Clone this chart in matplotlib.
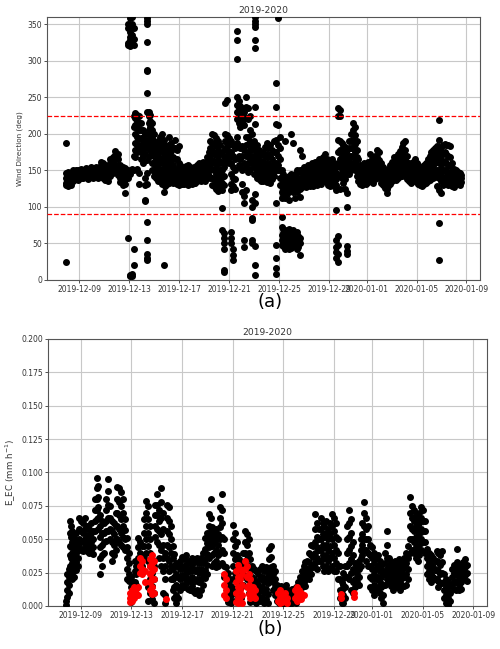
import pandas as pd
import matplotlib
matplotlib.use("Agg")
import matplotlib.pyplot as plt
import matplotlib.dates as mdates

# start of the record, the column positions below are days after it
start = pd.Timestamp("2019-12-08 00:00")

# wind direction (deg): (day, [values at that time])
wd_cols = [
    (-0.1, [188, 146, 140, 133, 130, 25]),
    (0.1, [148, 142, 137, 132, 128]),
    (0.3, [146, 140, 134, 130]),
    (0.5, [150, 145, 140, 136]),
    (0.7, [151, 147, 142, 138]),
    (0.9, [150, 146, 141, 137]),
    (1.1, [152, 148, 144, 140]),
    (1.3, [151, 147, 143, 139]),
    (1.5, [153, 149, 145, 141]),
    (1.7, [150, 146, 142, 138]),
    (1.9, [154, 150, 146, 141]),
    (2.1, [152, 148, 144, 140]),
    (2.3, [155, 151, 147, 142]),
    (2.5, [153, 149, 144, 140]),
    (2.7, [162, 157, 151, 146, 141]),
    (2.9, [160, 155, 149, 144, 139]),
    (3.1, [158, 153, 148, 143, 137]),
    (3.3, [156, 151, 146, 141, 136]),
    (3.5, [165, 160, 154, 148, 143]),
    (3.7, [168, 163, 158, 152, 146]),
    (3.9, [176, 171, 165, 158, 151]),
    (4.1, [172, 166, 158, 150, 144]),
    (4.3, [158, 152, 146, 140, 134]),
    (4.5, [154, 147, 141, 135, 130]),
    (4.7, [153, 146, 138, 132, 119]),
    (4.9, [350, 345, 325, 322, 150, 140, 57]),
    (5.05, [358, 340, 332, 328, 320, 145, 7, 5]),
    (5.2, [360, 350, 335, 325, 152, 8, 6]),
    (5.35, [345, 330, 322, 225, 210, 170, 150, 20, 42]),
    (5.5, [228, 222, 212, 200, 188, 178, 168]),
    (5.65, [226, 218, 208, 196, 185, 175, 152]),
    (5.8, [225, 215, 205, 193, 182, 146, 132]),
    (5.95, [215, 205, 195, 185, 175, 165]),
    (6.1, [205, 195, 186, 178, 170, 160]),
    (6.25, [200, 190, 182, 172, 140, 130, 110, 108]),
    (6.4, [358, 355, 350, 326, 288, 286, 256, 230, 164, 146, 132, 80, 55, 36, 30, 27]),
    (6.55, [230, 224, 215, 205, 195, 186, 178]),
    (6.7, [226, 218, 210, 200, 190, 180, 170]),
    (6.85, [215, 205, 195, 185, 172, 160, 150]),
    (7.0, [200, 190, 180, 170, 160, 150, 142]),
    (7.15, [185, 176, 166, 156, 148, 140]),
    (7.3, [190, 180, 170, 158, 148, 140, 135]),
    (7.45, [196, 186, 175, 162, 150, 142, 136]),
    (7.6, [200, 190, 178, 165, 150, 142, 132]),
    (7.75, [192, 180, 168, 155, 145, 121, 20]),
    (7.9, [185, 172, 160, 150, 142, 135, 128]),
    (8.05, [178, 165, 155, 147, 140, 132]),
    (8.2, [196, 185, 172, 158, 148, 140, 133]),
    (8.35, [188, 176, 164, 152, 144, 136]),
    (8.5, [180, 168, 157, 148, 140, 133]),
    (8.65, [192, 180, 165, 152, 143, 135]),
    (8.8, [178, 165, 152, 145, 138, 131]),
    (8.95, [183, 160, 150, 143, 137, 130]),
    (9.1, [158, 152, 146, 140, 134]),
    (9.25, [155, 149, 143, 137, 131]),
    (9.4, [152, 147, 142, 137, 132]),
    (9.55, [156, 150, 145, 140, 135]),
    (9.7, [158, 152, 146, 141, 135, 130]),
    (9.85, [154, 148, 143, 138, 133]),
    (10.0, [152, 147, 142, 137, 132]),
    (10.15, [155, 149, 144, 139, 133]),
    (10.3, [153, 148, 143, 138, 133]),
    (10.45, [158, 152, 146, 141, 136]),
    (10.6, [160, 154, 148, 143, 137]),
    (10.75, [157, 151, 146, 141, 135]),
    (10.9, [162, 156, 150, 144, 139]),
    (11.05, [160, 154, 148, 142, 136]),
    (11.2, [168, 160, 152, 146, 140]),
    (11.35, [175, 167, 158, 150, 143]),
    (11.5, [190, 180, 170, 160, 150, 140]),
    (11.65, [200, 188, 176, 164, 152, 140, 130]),
    (11.8, [198, 186, 174, 162, 150, 138, 128]),
    (11.95, [195, 183, 171, 158, 145, 133, 124]),
    (12.1, [190, 178, 165, 152, 140, 130, 122]),
    (12.25, [185, 172, 160, 148, 138, 128]),
    (12.4, [175, 162, 150, 141, 133, 123, 99, 68]),
    (12.55, [170, 155, 143, 130, 64, 58, 50, 42, 14, 11]),
    (12.7, [242, 200, 190, 180, 168, 160]),
    (12.85, [246, 198, 188, 178, 170, 162]),
    (13.0, [195, 185, 175, 168, 160]),
    (13.15, [190, 175, 160, 145, 132, 123, 65, 58, 50]),
    (13.3, [185, 170, 155, 140, 128, 42, 34, 28]),
    (13.45, [180, 165, 150, 138, 125]),
    (13.6, [341, 328, 302, 250, 240, 230, 220, 196, 188]),
    (13.75, [245, 235, 225, 215, 183, 170, 158]),
    (13.9, [238, 228, 218, 210, 180, 165, 155]),
    (14.05, [235, 225, 215, 183, 170, 150, 132, 121]),
    (14.2, [230, 220, 212, 178, 160, 115, 105, 55, 45]),
    (14.35, [251, 237, 222, 196, 185, 170, 155, 123]),
    (14.5, [235, 220, 196, 186, 172, 160, 148]),
    (14.65, [225, 205, 190, 178, 165, 152]),
    (14.8, [200, 185, 170, 160, 110, 100, 85, 82, 55, 50]),
    (14.95, [190, 178, 165, 155, 145]),
    (15.1, [360, 355, 350, 346, 328, 317, 237, 214, 183, 170, 160, 118, 105, 46, 21, 7]),
    (15.25, [185, 172, 162, 150, 140]),
    (15.4, [178, 165, 155, 146, 138]),
    (15.55, [172, 160, 150, 142, 135]),
    (15.7, [175, 162, 152, 144, 136]),
    (15.85, [182, 168, 156, 147, 139]),
    (16.0, [187, 172, 160, 150, 142, 134]),
    (16.15, [180, 168, 156, 147, 139]),
    (16.3, [185, 170, 158, 148, 140, 133]),
    (16.45, [178, 165, 154, 146, 138]),
    (16.6, [190, 175, 160, 150, 142]),
    (16.75, [269, 237, 214, 192, 175, 160, 150, 105, 48, 30, 17, 8]),
    (16.9, [358, 212, 185, 170, 158, 150]),
    (17.05, [196, 180, 165, 150, 140, 130]),
    (17.2, [150, 140, 130, 120, 112, 86, 72, 62, 55, 48]),
    (17.35, [145, 135, 125, 115, 70, 64, 58, 52, 46]),
    (17.5, [190, 140, 130, 120, 112, 68, 60, 54, 48, 42]),
    (17.65, [138, 128, 118, 66, 58, 52, 46]),
    (17.8, [142, 132, 122, 110, 70, 62, 55, 48, 42]),
    (17.95, [200, 145, 135, 125, 64, 56, 50, 44]),
    (18.1, [188, 140, 130, 120, 68, 60, 52, 46]),
    (18.25, [145, 136, 126, 112, 62, 55, 48]),
    (18.4, [150, 140, 130, 120, 65, 57, 50, 42]),
    (18.55, [148, 138, 128, 60, 52, 45]),
    (18.7, [178, 150, 134, 124, 114, 58, 50, 34]),
    (18.85, [170, 150, 142, 134, 127]),
    (19.0, [155, 147, 140, 134, 128]),
    (19.15, [152, 145, 139, 133, 127]),
    (19.3, [158, 150, 143, 136, 130]),
    (19.45, [154, 147, 140, 134, 128]),
    (19.6, [160, 152, 145, 138, 131]),
    (19.75, [156, 149, 142, 136, 129]),
    (19.9, [162, 154, 146, 139, 132]),
    (20.05, [158, 150, 143, 137, 130]),
    (20.2, [165, 156, 148, 140, 133]),
    (20.35, [160, 152, 145, 138, 131]),
    (20.5, [168, 158, 150, 142, 135]),
    (20.65, [172, 163, 154, 146, 138]),
    (20.8, [165, 156, 148, 140, 134]),
    (20.95, [160, 152, 145, 138, 130]),
    (21.1, [158, 150, 143, 136, 129]),
    (21.25, [165, 156, 148, 140, 133]),
    (21.4, [160, 150, 142, 135, 128]),
    (21.55, [155, 146, 138, 130, 123, 96, 55, 45, 38, 30]),
    (21.7, [235, 225, 192, 175, 160, 60, 48, 36, 24]),
    (21.85, [233, 225, 190, 178, 165, 155, 142, 125]),
    (22.0, [187, 178, 170, 162, 155, 148, 140]),
    (22.15, [185, 175, 166, 158, 150, 141, 133]),
    (22.3, [182, 172, 164, 156, 148, 138, 125]),
    (22.45, [178, 170, 162, 154, 145, 119, 100, 46, 40, 36]),
    (22.6, [190, 180, 170, 162, 154, 145]),
    (22.75, [200, 190, 180, 170, 160, 150]),
    (22.9, [215, 205, 192, 180, 168, 155]),
    (23.05, [210, 198, 186, 175, 162, 150]),
    (23.2, [190, 178, 168, 158, 150, 142]),
    (23.35, [165, 155, 148, 142, 136]),
    (23.5, [158, 150, 143, 137, 131]),
    (23.65, [155, 148, 142, 136, 130]),
    (23.8, [160, 152, 145, 139, 133]),
    (23.95, [156, 149, 143, 137, 131]),
    (24.1, [162, 154, 147, 140, 134]),
    (24.25, [173, 160, 152, 145, 138]),
    (24.4, [165, 156, 149, 142, 136]),
    (24.55, [158, 151, 145, 139, 133]),
    (24.7, [170, 160, 152, 145, 138]),
    (24.85, [178, 168, 158, 150, 142]),
    (25.0, [175, 164, 155, 147, 140]),
    (25.15, [160, 152, 145, 139, 133]),
    (25.3, [155, 148, 142, 136, 130]),
    (25.45, [150, 144, 138, 132, 126]),
    (25.6, [148, 140, 133, 125, 119]),
    (25.75, [152, 145, 139, 133, 128]),
    (25.9, [158, 150, 144, 138, 132]),
    (26.05, [162, 154, 147, 141, 135]),
    (26.2, [168, 159, 151, 144, 138]),
    (26.35, [165, 157, 150, 143, 137]),
    (26.5, [172, 162, 154, 147, 140]),
    (26.65, [176, 166, 157, 149, 142]),
    (26.8, [182, 170, 160, 151, 143]),
    (26.95, [188, 176, 164, 154, 145]),
    (27.1, [190, 178, 166, 155, 146]),
    (27.25, [170, 160, 152, 145, 138]),
    (27.4, [160, 153, 147, 141, 135]),
    (27.55, [158, 151, 145, 139, 133]),
    (27.7, [162, 155, 148, 142, 136]),
    (27.85, [165, 157, 150, 143, 137]),
    (28.0, [160, 153, 146, 140, 134]),
    (28.15, [157, 150, 144, 138, 132]),
    (28.3, [155, 148, 142, 136, 130]),
    (28.45, [152, 146, 140, 134, 128]),
    (28.6, [158, 151, 144, 138, 132]),
    (28.75, [160, 153, 146, 139, 133]),
    (28.9, [165, 157, 149, 142, 135]),
    (29.05, [170, 161, 152, 144, 137]),
    (29.2, [175, 165, 156, 147, 139]),
    (29.35, [178, 168, 158, 149, 140]),
    (29.5, [180, 170, 160, 150, 141]),
    (29.65, [183, 172, 161, 151, 142, 128]),
    (29.8, [219, 192, 178, 165, 150, 140, 123, 78, 27]),
    (29.95, [182, 170, 158, 146, 135, 119]),
    (30.1, [185, 174, 162, 150, 140, 130]),
    (30.25, [186, 175, 163, 151, 141, 132]),
    (30.4, [185, 172, 160, 149, 140, 131]),
    (30.55, [185, 170, 158, 147, 138, 130]),
    (30.7, [184, 168, 156, 146, 137]),
    (30.85, [160, 150, 142, 135, 128]),
    (31.0, [152, 145, 139, 133, 127]),
    (31.15, [150, 144, 138, 132]),
    (31.3, [148, 142, 137, 131]),
    (31.45, [146, 141, 136, 130]),
    (31.6, [144, 139, 134]),
]

# evaporation E_EC (mm/h): black points
ec_cols = [
    (-0.15, [0.004, 0.001]),
    (-0.05, [0.024, 0.018, 0.012, 0.007]),
    (0.05, [0.028, 0.022, 0.016, 0.010]),
    (0.15, [0.064, 0.055, 0.045, 0.038, 0.030]),
    (0.25, [0.060, 0.052, 0.044, 0.036, 0.028]),
    (0.35, [0.056, 0.048, 0.040, 0.032, 0.025, 0.020]),
    (0.45, [0.054, 0.046, 0.038, 0.030, 0.022]),
    (0.55, [0.050, 0.043, 0.036, 0.029]),
    (0.65, [0.055, 0.048, 0.040, 0.033, 0.027]),
    (0.75, [0.048, 0.042, 0.036, 0.030]),
    (0.9, [0.066, 0.058, 0.050, 0.044]),
    (1.05, [0.064, 0.056, 0.049, 0.042]),
    (1.2, [0.062, 0.055, 0.048, 0.041]),
    (1.35, [0.066, 0.058, 0.050, 0.044]),
    (1.5, [0.060, 0.053, 0.047, 0.041]),
    (1.65, [0.058, 0.052, 0.046, 0.040]),
    (1.8, [0.062, 0.055, 0.048, 0.042]),
    (1.95, [0.056, 0.050, 0.044, 0.039]),
    (2.1, [0.080, 0.072, 0.064, 0.056]),
    (2.25, [0.096, 0.088, 0.080, 0.072, 0.065]),
    (2.4, [0.090, 0.082, 0.074, 0.066, 0.058]),
    (2.55, [0.068, 0.060, 0.052, 0.044, 0.036, 0.024]),
    (2.7, [0.064, 0.055, 0.046, 0.038, 0.030]),
    (2.85, [0.062, 0.055, 0.048, 0.040]),
    (3.0, [0.080, 0.072, 0.064, 0.056, 0.049]),
    (3.15, [0.095, 0.086, 0.076, 0.066, 0.056]),
    (3.3, [0.075, 0.066, 0.058, 0.050]),
    (3.45, [0.064, 0.056, 0.048, 0.040, 0.034]),
    (3.6, [0.062, 0.054, 0.046, 0.038]),
    (3.75, [0.070, 0.060, 0.050, 0.042]),
    (3.9, [0.089, 0.080, 0.070, 0.060, 0.050]),
    (4.05, [0.088, 0.078, 0.068, 0.058, 0.048]),
    (4.2, [0.085, 0.075, 0.065, 0.055, 0.046]),
    (4.35, [0.080, 0.070, 0.060, 0.052, 0.044]),
    (4.5, [0.065, 0.057, 0.050, 0.042]),
    (4.65, [0.051, 0.044, 0.036, 0.028, 0.020]),
    (4.8, [0.040, 0.032, 0.024, 0.019]),
    (4.95, [0.022, 0.014, 0.008, 0.003]),
    (5.1, [0.018, 0.012, 0.006]),
    (5.25, [0.034, 0.026, 0.018, 0.010]),
    (5.4, [0.030, 0.024, 0.016, 0.009]),
    (5.55, [0.051, 0.044, 0.036, 0.028]),
    (5.7, [0.048, 0.040, 0.032, 0.026]),
    (5.85, [0.045, 0.038, 0.030]),
    (6.0, [0.065, 0.055, 0.045, 0.036]),
    (6.15, [0.079, 0.070, 0.060, 0.050, 0.040]),
    (6.3, [0.075, 0.065, 0.055, 0.045, 0.034, 0.014, 0.004]),
    (6.45, [0.060, 0.050, 0.040, 0.030, 0.020, 0.010]),
    (6.6, [0.035, 0.025, 0.015, 0.005]),
    (6.75, [0.030, 0.020, 0.010, 0.002]),
    (6.9, [0.076, 0.068, 0.060, 0.052]),
    (7.05, [0.084, 0.076, 0.068, 0.058, 0.048]),
    (7.2, [0.072, 0.064, 0.056, 0.046, 0.036]),
    (7.35, [0.088, 0.078, 0.066, 0.054, 0.042, 0.030]),
    (7.5, [0.070, 0.058, 0.046, 0.036, 0.026, 0.010]),
    (7.65, [0.040, 0.030, 0.020, 0.008, 0.002]),
    (7.8, [0.076, 0.066, 0.056, 0.046, 0.036]),
    (7.95, [0.074, 0.064, 0.054, 0.044, 0.034, 0.026]),
    (8.1, [0.060, 0.050, 0.040, 0.030, 0.020]),
    (8.25, [0.045, 0.036, 0.028, 0.020, 0.012]),
    (8.4, [0.039, 0.030, 0.022, 0.014, 0.006]),
    (8.55, [0.032, 0.024, 0.016, 0.008, 0.002]),
    (8.7, [0.030, 0.022, 0.014, 0.006]),
    (8.85, [0.034, 0.028, 0.020, 0.012]),
    (9.0, [0.037, 0.030, 0.023, 0.016]),
    (9.15, [0.035, 0.028, 0.021, 0.014]),
    (9.3, [0.038, 0.031, 0.024, 0.017]),
    (9.45, [0.034, 0.027, 0.020, 0.013]),
    (9.6, [0.032, 0.026, 0.019, 0.012]),
    (9.75, [0.036, 0.029, 0.022, 0.015]),
    (9.9, [0.034, 0.027, 0.020, 0.011]),
    (10.05, [0.033, 0.026, 0.019, 0.010]),
    (10.2, [0.036, 0.028, 0.020, 0.012]),
    (10.35, [0.032, 0.025, 0.018, 0.008]),
    (10.5, [0.036, 0.028, 0.020, 0.012]),
    (10.65, [0.040, 0.032, 0.024, 0.016]),
    (10.8, [0.051, 0.043, 0.035, 0.027, 0.021]),
    (10.95, [0.055, 0.047, 0.039, 0.031, 0.024]),
    (11.1, [0.069, 0.060, 0.052, 0.044, 0.036]),
    (11.25, [0.080, 0.066, 0.056, 0.048]),
    (11.4, [0.059, 0.052, 0.045, 0.038, 0.030]),
    (11.55, [0.055, 0.048, 0.040, 0.032]),
    (11.7, [0.058, 0.050, 0.042, 0.034, 0.029]),
    (11.85, [0.054, 0.046, 0.038, 0.030]),
    (12.0, [0.074, 0.066, 0.059, 0.050, 0.040]),
    (12.15, [0.084, 0.072, 0.062, 0.052, 0.042, 0.032]),
    (12.3, [0.050, 0.040, 0.030, 0.022]),
    (12.45, [0.029, 0.022, 0.015, 0.008]),
    (12.6, [0.025, 0.018, 0.010, 0.003]),
    (12.75, [0.020, 0.012, 0.005]),
    (12.9, [0.015, 0.008, 0.002]),
    (13.05, [0.061, 0.050, 0.040, 0.030, 0.020]),
    (13.2, [0.055, 0.045, 0.035, 0.025, 0.013, 0.004]),
    (13.35, [0.048, 0.038, 0.028, 0.018, 0.008]),
    (13.5, [0.035, 0.026, 0.018, 0.010]),
    (13.65, [0.030, 0.022, 0.014, 0.006]),
    (13.8, [0.040, 0.032, 0.024, 0.016]),
    (13.95, [0.056, 0.048, 0.040, 0.034]),
    (14.1, [0.054, 0.046, 0.038, 0.030, 0.020]),
    (14.25, [0.050, 0.040, 0.030, 0.020, 0.010]),
    (14.4, [0.035, 0.026, 0.018, 0.010, 0.003]),
    (14.55, [0.030, 0.022, 0.014, 0.006]),
    (14.7, [0.028, 0.020, 0.012, 0.004]),
    (14.85, [0.026, 0.018, 0.010, 0.002]),
    (15.0, [0.024, 0.016, 0.008]),
    (15.15, [0.028, 0.020, 0.012, 0.004]),
    (15.3, [0.030, 0.022, 0.014, 0.006]),
    (15.45, [0.026, 0.018, 0.010, 0.002]),
    (15.6, [0.029, 0.021, 0.013, 0.005]),
    (15.75, [0.025, 0.017, 0.009, 0.002]),
    (15.9, [0.043, 0.035, 0.027, 0.020]),
    (16.05, [0.045, 0.037, 0.029, 0.022]),
    (16.2, [0.030, 0.024, 0.018, 0.012]),
    (16.35, [0.026, 0.020, 0.014, 0.008]),
    (16.5, [0.016, 0.010, 0.004]),
    (16.65, [0.014, 0.008, 0.002]),
    (16.8, [0.015, 0.009, 0.003]),
    (16.95, [0.012, 0.006, 0.001]),
    (17.1, [0.014, 0.008, 0.002]),
    (17.25, [0.016, 0.010, 0.004]),
    (17.4, [0.012, 0.006, 0.001]),
    (17.55, [0.010, 0.004]),
    (17.7, [0.013, 0.007, 0.002]),
    (17.85, [0.011, 0.005]),
    (18.0, [0.014, 0.008, 0.002]),
    (18.15, [0.018, 0.012, 0.006]),
    (18.3, [0.022, 0.016, 0.010]),
    (18.45, [0.026, 0.020, 0.014]),
    (18.6, [0.030, 0.024, 0.018]),
    (18.75, [0.033, 0.027, 0.021, 0.015]),
    (18.9, [0.034, 0.028, 0.022]),
    (19.05, [0.040, 0.033, 0.026, 0.020]),
    (19.2, [0.046, 0.038, 0.030, 0.024]),
    (19.35, [0.045, 0.037, 0.029]),
    (19.5, [0.069, 0.058, 0.048, 0.040, 0.032]),
    (19.65, [0.062, 0.052, 0.044, 0.036, 0.028]),
    (19.8, [0.058, 0.050, 0.042, 0.034]),
    (19.95, [0.066, 0.058, 0.050, 0.042, 0.034]),
    (20.1, [0.062, 0.054, 0.046, 0.038, 0.030]),
    (20.25, [0.060, 0.052, 0.044, 0.036, 0.026]),
    (20.4, [0.064, 0.055, 0.046, 0.038, 0.030]),
    (20.55, [0.058, 0.050, 0.042, 0.034, 0.026]),
    (20.7, [0.062, 0.054, 0.045, 0.036, 0.028]),
    (20.85, [0.069, 0.060, 0.050, 0.040, 0.030]),
    (21.0, [0.066, 0.056, 0.046, 0.036, 0.026]),
    (21.15, [0.062, 0.052, 0.042, 0.032, 0.026]),
    (21.3, [0.050, 0.040, 0.030, 0.020]),
    (21.45, [0.030, 0.020, 0.012, 0.006]),
    (21.6, [0.018, 0.012, 0.006, 0.002]),
    (21.75, [0.025, 0.016, 0.008, 0.002]),
    (21.9, [0.030, 0.022, 0.014, 0.006]),
    (22.05, [0.060, 0.050, 0.040, 0.030, 0.022]),
    (22.2, [0.072, 0.062, 0.052, 0.042, 0.032, 0.020]),
    (22.35, [0.065, 0.055, 0.045, 0.035, 0.025, 0.012]),
    (22.5, [0.048, 0.038, 0.028, 0.018, 0.010]),
    (22.65, [0.032, 0.026, 0.020, 0.014]),
    (22.8, [0.030, 0.024, 0.018]),
    (22.95, [0.034, 0.028, 0.022, 0.016]),
    (23.1, [0.050, 0.042, 0.036, 0.030]),
    (23.25, [0.062, 0.054, 0.046, 0.038]),
    (23.4, [0.078, 0.070, 0.060, 0.050, 0.042]),
    (23.55, [0.066, 0.058, 0.050, 0.042, 0.034]),
    (23.7, [0.060, 0.050, 0.040, 0.030]),
    (23.85, [0.046, 0.038, 0.030, 0.022, 0.014]),
    (24.0, [0.044, 0.036, 0.028, 0.020, 0.012]),
    (24.15, [0.040, 0.032, 0.024, 0.016, 0.008]),
    (24.3, [0.036, 0.028, 0.020, 0.012]),
    (24.45, [0.038, 0.030, 0.022, 0.014]),
    (24.6, [0.034, 0.026, 0.018, 0.010]),
    (24.75, [0.030, 0.022, 0.014, 0.006]),
    (24.9, [0.026, 0.016, 0.008, 0.002]),
    (25.05, [0.040, 0.032, 0.024, 0.016]),
    (25.2, [0.056, 0.046, 0.036, 0.028, 0.020]),
    (25.35, [0.036, 0.030, 0.024, 0.018]),
    (25.5, [0.033, 0.027, 0.021, 0.015]),
    (25.65, [0.030, 0.024, 0.018, 0.012]),
    (25.8, [0.034, 0.028, 0.022, 0.016]),
    (25.95, [0.032, 0.026, 0.020, 0.014]),
    (26.1, [0.035, 0.029, 0.023, 0.017]),
    (26.25, [0.030, 0.024, 0.018, 0.012]),
    (26.4, [0.033, 0.027, 0.021, 0.015]),
    (26.55, [0.036, 0.029, 0.022, 0.015]),
    (26.7, [0.040, 0.032, 0.024, 0.016]),
    (26.85, [0.045, 0.036, 0.028, 0.020]),
    (27.0, [0.082, 0.070, 0.060, 0.050, 0.040]),
    (27.15, [0.075, 0.066, 0.058, 0.050, 0.042]),
    (27.3, [0.072, 0.064, 0.056, 0.048, 0.040]),
    (27.45, [0.068, 0.060, 0.052, 0.044, 0.036]),
    (27.6, [0.066, 0.058, 0.050, 0.042, 0.034]),
    (27.75, [0.070, 0.062, 0.054, 0.046, 0.038]),
    (27.9, [0.074, 0.066, 0.058, 0.050, 0.042]),
    (28.05, [0.072, 0.064, 0.056, 0.048]),
    (28.2, [0.064, 0.056, 0.048, 0.040]),
    (28.35, [0.043, 0.036, 0.030, 0.024]),
    (28.5, [0.040, 0.033, 0.026, 0.020]),
    (28.65, [0.038, 0.031, 0.024, 0.018]),
    (28.8, [0.036, 0.029, 0.022]),
    (28.95, [0.034, 0.027, 0.020]),
    (29.1, [0.041, 0.034, 0.027, 0.020]),
    (29.25, [0.040, 0.033, 0.026, 0.019, 0.014]),
    (29.4, [0.038, 0.031, 0.024, 0.017]),
    (29.55, [0.041, 0.033, 0.025, 0.017]),
    (29.7, [0.024, 0.018, 0.012, 0.006]),
    (29.85, [0.020, 0.014, 0.008, 0.002]),
    (30.0, [0.018, 0.012, 0.006, 0.001]),
    (30.15, [0.016, 0.010, 0.004]),
    (30.3, [0.028, 0.022, 0.016]),
    (30.45, [0.031, 0.025, 0.019, 0.013]),
    (30.6, [0.030, 0.024, 0.018, 0.012]),
    (30.75, [0.043, 0.033, 0.026, 0.019]),
    (30.9, [0.028, 0.022, 0.016, 0.012]),
    (31.05, [0.030, 0.024, 0.018, 0.013]),
    (31.2, [0.033, 0.027, 0.021]),
    (31.35, [0.035, 0.029, 0.023]),
    (31.5, [0.031, 0.025, 0.019]),
]

# E_EC points drawn in red
ec_red_cols = [
    (4.9, [0.010, 0.006, 0.003]),
    (5.05, [0.012, 0.008, 0.004]),
    (5.2, [0.014, 0.010, 0.006]),
    (5.35, [0.013, 0.009]),
    (5.5, [0.014, 0.008]),
    (5.7, [0.036, 0.030, 0.025]),
    (5.85, [0.034, 0.028, 0.024]),
    (6.05, [0.026, 0.018]),
    (6.5, [0.035, 0.030, 0.024, 0.018, 0.012]),
    (6.65, [0.038, 0.032, 0.026, 0.020, 0.014, 0.009]),
    (6.8, [0.034, 0.028, 0.020, 0.010]),
    (7.7, [0.005]),
    (12.35, [0.024, 0.016, 0.008]),
    (12.5, [0.020, 0.012, 0.006]),
    (13.3, [0.026, 0.018, 0.010, 0.003]),
    (13.45, [0.031, 0.022, 0.014, 0.006, 0.002]),
    (13.6, [0.028, 0.020, 0.012, 0.004]),
    (13.75, [0.024, 0.016, 0.008, 0.002]),
    (13.95, [0.034, 0.028]),
    (14.1, [0.030, 0.022, 0.014]),
    (14.25, [0.024, 0.016, 0.009]),
    (14.4, [0.020, 0.012, 0.006]),
    (14.6, [0.014, 0.008]),
    (14.8, [0.012, 0.006]),
    (16.6, [0.010, 0.004]),
    (16.75, [0.012, 0.006, 0.002]),
    (16.9, [0.008, 0.003]),
    (17.1, [0.010, 0.004]),
    (17.3, [0.006, 0.002]),
    (17.9, [0.012, 0.006]),
    (18.05, [0.014, 0.008, 0.004]),
    (18.2, [0.012, 0.006]),
    (18.4, [0.010, 0.005]),
    (18.6, [0.008]),
    (21.55, [0.009, 0.006]),
    (22.6, [0.010, 0.007]),
]

wd_limits = [90, 225]
x_lo = pd.Timestamp("2019-12-06 10:00")
x_hi = pd.Timestamp("2020-01-10 02:00")


def expand(cols):
    # turn (day, [values]) columns into time and value lists
    times, vals = [], []
    for day, col in cols:
        for v in col:
            times.append(start + pd.Timedelta(days=day))
            vals.append(v)
    return times, vals


def style_axis(ax):
    ax.grid(True, color='#c8c8c8', linewidth=0.8)
    ax.set_axisbelow(True)
    ax.set_xlim(x_lo, x_hi)
    ax.xaxis.set_major_locator(mdates.DayLocator(bymonthday=[1, 5, 9, 13, 17, 21, 25, 29]))
    ax.xaxis.set_major_formatter(mdates.DateFormatter('%Y-%m-%d'))
    ax.tick_params(labelsize=5.5, length=2, width=0.6, pad=1.5, colors='#333333')
    for s in ax.spines.values():
        s.set_color('#555555')
        s.set_linewidth(0.8)


fig = plt.figure(figsize=(5, 6.49), dpi=100)

# (a) wind direction
ax1 = fig.add_axes([0.094, 0.5686, 0.866, 0.4052])
t, v = expand(wd_cols)
ax1.scatter(t, v, s=16, color='black', zorder=3)
for lim in wd_limits:
    ax1.axhline(lim, color='red', linestyle='--', linewidth=0.9, zorder=4)
ax1.set_ylim(0, 360)
ax1.set_yticks(range(0, 351, 50))
ax1.set_ylabel('Wind Direction (deg)', fontsize=5.2, color='#333333', labelpad=3)
ax1.set_title('2019-2020', fontsize=6.6, pad=3, color='#333333')
style_axis(ax1)

# (b) E_EC
ax2 = fig.add_axes([0.096, 0.0663, 0.878, 0.4114])
t, v = expand(ec_cols)
ax2.scatter(t, v, s=16, color='black', zorder=3)
t, v = expand(ec_red_cols)
ax2.scatter(t, v, s=16, color='red', zorder=4)
ax2.set_ylim(0, 0.2)
ax2.set_yticks([0.025 * i for i in range(9)])
ax2.yaxis.set_major_formatter(matplotlib.ticker.FormatStrFormatter('%.3f'))
ax2.set_ylabel('E_EC (mm h$^{-1}$)', fontsize=6.3, color='#333333', labelpad=2)
ax2.set_title('2019-2020', fontsize=6.6, pad=3, color='#333333')
style_axis(ax2)

fig.text(0.54, 0.535, '(a)', fontsize=13, ha='center', va='center')
fig.text(0.54, 0.031, '(b)', fontsize=13, ha='center', va='center')

fig.savefig('out.png', dpi=100)
